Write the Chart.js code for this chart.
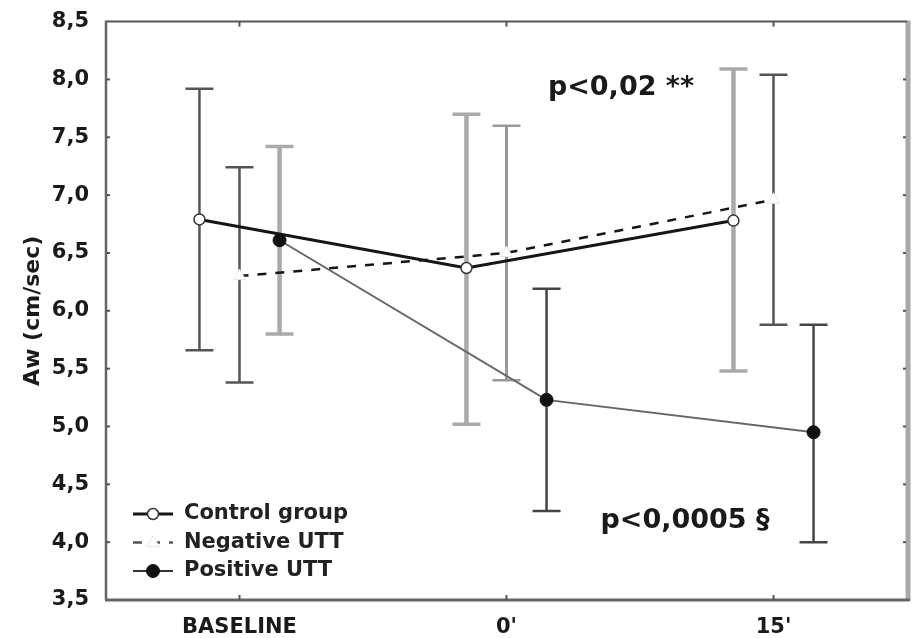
<!DOCTYPE html>
<html><head><meta charset="utf-8">
<script src="https://cdn.jsdelivr.net/npm/chart.js@4/dist/chart.umd.min.js"></script>
<style>html,body{margin:0;padding:0;background:#fff;}#wrap{width:915px;height:638px;}</style>
</head><body><div id="wrap"><canvas id="c" width="915" height="638"></canvas></div>
<script>
// ---- data ----
const categories = ['BASELINE', "0'", "15'"];
const yTickLabels = ['3,5','4,0','4,5','5,0','5,5','6,0','6,5','7,0','7,5','8,0','8,5'];
const seriesNames = ['Control group', 'Negative UTT', 'Positive UTT'];

const controlMean  = [6.79, 6.37, 6.78];
const controlUpper = [7.92, 7.70, 8.09];
const controlLower = [5.66, 5.02, 5.48];

const negativeMean  = [6.30, 6.50, 6.96];
const negativeUpper = [7.24, 7.60, 8.04];
const negativeLower = [5.38, 5.40, 5.88];

const positiveMean  = [6.61, 5.23, 4.95];
const positiveUpper = [7.42, 6.19, 5.88];
const positiveLower = [5.80, 4.27, 4.00];

const annotationTexts = ['p<0,02 **', 'p<0,0005 §'];
// ---------------------------------------

const FONT = "'DejaVu Sans', Verdana, sans-serif";
const DODGE = 0.15;

function pts(mean, dodge){ return mean.map((v,i)=>({x:i+dodge, y:v})); }

const errorBars = {
  id:'errorBars',
  beforeDatasetsDraw(chart){
    const ctx=chart.ctx, xs=chart.scales.x, ys=chart.scales.y;
    chart.data.datasets.forEach(ds=>{
      ds.data.forEach((p,i)=>{
        const x=xs.getPixelForValue(p.x);
        const yh=ys.getPixelForValue(ds.errUpper[i]);
        const yl=ys.getPixelForValue(ds.errLower[i]);
        ctx.save();
        ctx.strokeStyle=ds.errColor[i]; ctx.lineWidth=ds.errWidth[i];
        ctx.beginPath(); ctx.moveTo(x,yh); ctx.lineTo(x,yl); ctx.stroke();
        ctx.lineWidth=Math.max(2.5, ds.errWidth[i]-1);
        ctx.beginPath();
        ctx.moveTo(x-14,yh); ctx.lineTo(x+14,yh);
        ctx.moveTo(x-14,yl); ctx.lineTo(x+14,yl);
        ctx.stroke();
        ctx.restore();
      });
    });
  }
};

const frame = {
  id:'frame',
  beforeDatasetsDraw(chart){
    const ctx=chart.ctx, a=chart.chartArea, xs=chart.scales.x, ys=chart.scales.y;
    ctx.save();
    ctx.strokeStyle='#aaaaaa'; ctx.lineWidth=5;
    ctx.beginPath(); ctx.moveTo(a.right+1, a.top-1); ctx.lineTo(a.right+1, a.bottom+1); ctx.stroke();
    ctx.strokeStyle='#555'; ctx.lineWidth=2;
    ctx.beginPath(); ctx.moveTo(a.left, a.top); ctx.lineTo(a.right, a.top); ctx.stroke();
    ctx.strokeStyle='#666'; ctx.lineWidth=2.5;
    ctx.beginPath(); ctx.moveTo(a.left, a.top-1); ctx.lineTo(a.left, a.bottom); ctx.stroke();
    ctx.strokeStyle='#666'; ctx.lineWidth=3;
    ctx.beginPath(); ctx.moveTo(a.left-1, a.bottom); ctx.lineTo(a.right+3, a.bottom); ctx.stroke();
    ctx.strokeStyle='#555'; ctx.lineWidth=2;
    ys.ticks.forEach(t=>{
      const y=ys.getPixelForValue(t.value);
      if (t.value<=ys.min || t.value>=ys.max) return;
      ctx.beginPath(); ctx.moveTo(a.left, y); ctx.lineTo(a.left+4, y); ctx.stroke();
      ctx.beginPath(); ctx.moveTo(a.right-1, y); ctx.lineTo(a.right-4, y); ctx.stroke();
    });
    xs.ticks.forEach(t=>{
      const x=xs.getPixelForValue(t.value);
      ctx.beginPath(); ctx.moveTo(x, a.top); ctx.lineTo(x, a.top+5); ctx.stroke();
      ctx.beginPath(); ctx.moveTo(x, a.bottom); ctx.lineTo(x, a.bottom-5); ctx.stroke();
    });
    ctx.restore();
  }
};

function drawMarker(ctx, style, x, y, r, fill, stroke, bw){
  ctx.save();
  ctx.fillStyle=fill; ctx.strokeStyle=stroke; ctx.lineWidth=bw; ctx.setLineDash([]);
  ctx.beginPath();
  if (style==='triangle'){
    ctx.moveTo(x, y-r); ctx.lineTo(x+r*0.9, y+r*0.6); ctx.lineTo(x-r*0.9, y+r*0.6); ctx.closePath();
  } else {
    ctx.arc(x, y, r, 0, Math.PI*2);
  }
  ctx.fill(); if (bw>0) ctx.stroke();
  ctx.restore();
}

const legendBox = {
  id:'legendBox',
  afterDraw(chart, args, opts){
    const ctx=chart.ctx;
    chart.data.datasets.forEach((ds,i)=>{
      const y=opts.top + i*opts.rowGap;
      ctx.save();
      ctx.strokeStyle=ds.legendColor||ds.borderColor; ctx.lineWidth=ds.borderWidth;
      ctx.setLineDash(ds.borderDash||[]);
      ctx.beginPath(); ctx.moveTo(opts.left, y); ctx.lineTo(opts.left+opts.lineLen, y); ctx.stroke();
      ctx.restore();
      drawMarker(ctx, ds.pointStyle, opts.left+opts.lineLen/2, y, ds.pointRadius, ds.pointBackgroundColor, ds.pointBorderColor, ds.pointBorderWidth);
      ctx.save();
      ctx.fillStyle='#222'; ctx.font='bold 21px '+FONT; ctx.textBaseline='middle'; ctx.textAlign='left';
      ctx.fillText(ds.label, opts.left+opts.lineLen+11, y);
      ctx.restore();
    });
  }
};

const notes = {
  id:'notes',
  afterDraw(chart, args, opts){
    const ctx=chart.ctx, xs=chart.scales.x, ys=chart.scales.y;
    ctx.save();
    ctx.fillStyle='#1a1a1a'; ctx.font='bold 27px '+FONT; ctx.textBaseline='middle'; ctx.textAlign='left';
    opts.items.forEach(it=>{
      ctx.fillText(it.text, xs.getPixelForValue(it.x), ys.getPixelForValue(it.y));
    });
    ctx.restore();
  }
};

new Chart(document.getElementById('c'), {
  type:'line',
  data:{
    datasets:[
      { label:seriesNames[0], data:pts(controlMean,-DODGE),
        errUpper:controlUpper, errLower:controlLower,
        errColor:['#555','#aaa','#aaa'], errWidth:[2.5,4.5,4.5],
        borderColor:'#151515', borderWidth:3, pointStyle:'circle', pointRadius:5.5,
        pointBackgroundColor:'#fff', pointBorderColor:'#333', pointBorderWidth:1.5 },
      { label:seriesNames[1], data:pts(negativeMean,0),
        errUpper:negativeUpper, errLower:negativeLower,
        errColor:['#555','#999','#555'], errWidth:[2.5,3,2.5],
        borderColor:'#151515', borderWidth:2.5, borderDash:[9,9], pointStyle:'triangle', pointRadius:7,
        legendColor:'#555',
        pointBackgroundColor:'#fff', pointBorderColor:'#e6e6e6', pointBorderWidth:1 },
      { label:seriesNames[2], data:pts(positiveMean,DODGE),
        errUpper:positiveUpper, errLower:positiveLower,
        errColor:['#aaa','#444','#444'], errWidth:[4.5,2.5,2.5],
        borderColor:'#666', borderWidth:2, pointStyle:'circle', pointRadius:6.5,
        legendColor:'#333',
        pointBackgroundColor:'#111', pointBorderColor:'#111', pointBorderWidth:1 }
    ]
  },
  options:{
    responsive:false, animation:false, devicePixelRatio:1,
    layout:{padding:{top:20, right:4, left:0, bottom:0}},
    plugins:{
      legend:{display:false}, tooltip:{enabled:false},
      legendBox:{left:133, top:514, rowGap:28.5, lineLen:40},
      notes:{items:[{text:annotationTexts[0], x:1.155, y:7.93},{text:annotationTexts[1], x:1.352, y:4.18}]}
    },
    elements:{line:{tension:0}},
    scales:{
      x:{ type:'linear', min:-0.5, max:2.5,
        afterBuildTicks(s){ s.ticks = categories.map((c,i)=>({value:i})); },
        afterFit(s){ s.height=38; },
        grid:{display:false}, border:{display:false},
        ticks:{ padding:7, color:'#1a1a1a', font:{family:FONT, size:21, weight:'bold'},
          callback:(v)=>categories[Math.round(v)] }
      },
      y:{ min:3.5, max:8.5,
        afterFit(s){ s.width=106; },
        grid:{display:false}, border:{display:false},
        ticks:{ stepSize:0.5, padding:9, color:'#1a1a1a', font:{family:FONT, size:21, weight:'bold'},
          callback:(v,i)=>yTickLabels[i] },
        title:{ display:true, text:'Aw (cm/sec)', color:'#1a1a1a', padding:{top:20,bottom:0},
          font:{family:FONT, size:22, weight:'bold'} }
      }
    }
  },
  plugins:[frame, errorBars, legendBox, notes]
});
</script>
</body></html>
